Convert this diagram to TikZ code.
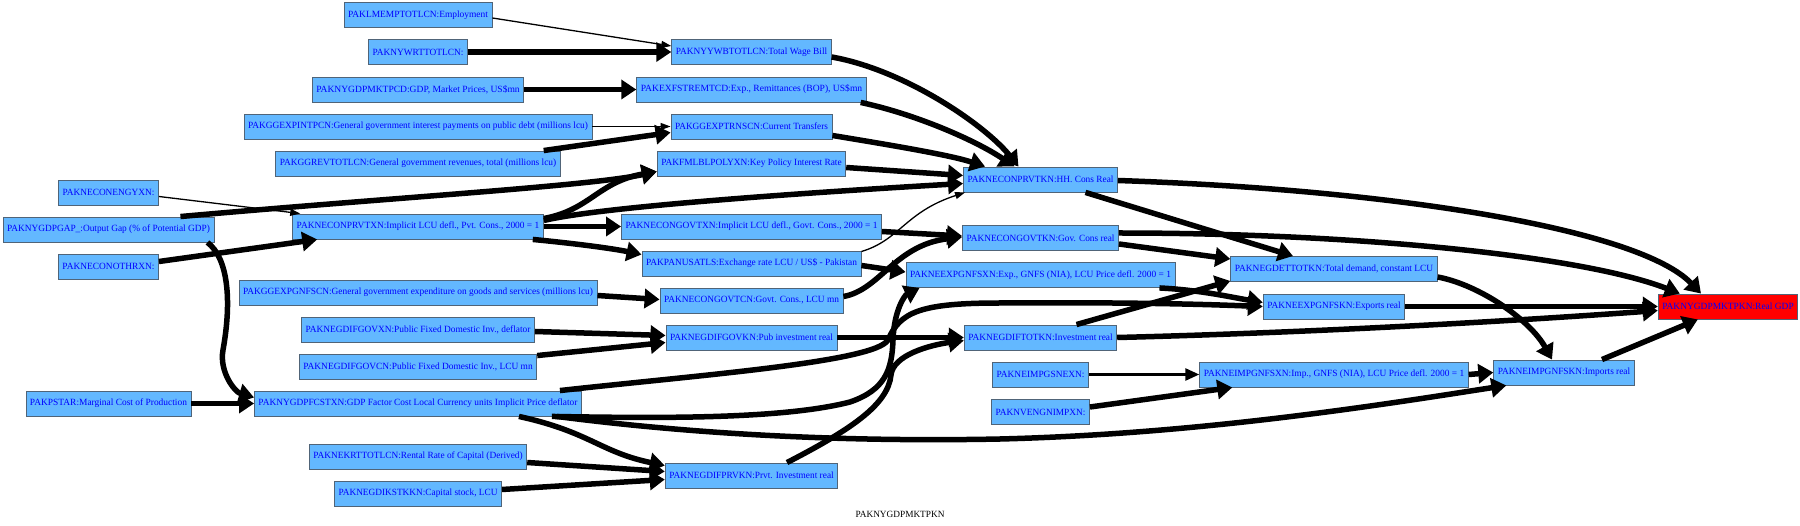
\documentclass[tikz,border=0pt]{standalone}
\usepackage{fontspec}
\setmainfont{Liberation Serif}
\usepackage{graphicx}
\usetikzlibrary{arrows.meta,calc}
\definecolor{boxfill}{RGB}{99,184,255}
\definecolor{boxline}{RGB}{80,100,120}
\newsavebox\fitbox
\newlength\fitlen
\newcommand\fitw[2]{\sbox\fitbox{#2}\setlength\fitlen{\wd\fitbox}\pgfmathsetmacro\fitsx{(#1)/\fitlen}\scalebox{\fitsx}[1]{\usebox\fitbox}}
\newcommand\nodefont{\fontsize{9.5}{10}\selectfont}
\newcommand\bx[6][box]{\node[#1,minimum width=#5pt] (#2) at (#3,#4) {\fitw{#5-8}{#6}};}
\tikzset{
  box/.style={draw=boxline, fill=boxfill, line width=0.9pt, minimum height=25pt, inner sep=0pt, text=blue, font=\nodefont},
  gdpbox/.style={box, fill=red},
  thk/.style={line width=5.5pt, -{Triangle[length=15pt,width=19pt]}},
  thn/.style={line width=1.3pt, -{Triangle[length=10pt,width=7pt]}},
  med/.style={line width=2.6pt, -{Triangle[length=14pt,width=12pt]}},
}
\begin{document}
\begin{tikzpicture}[x=1pt,y=-1pt]
\fill[white] (0,0) rectangle (1800,526);
\useasboundingbox (0,0) rectangle (1800,526);
% column 0
\bx{econengy}{108.5}{192.5}{100}{PAKNECONENGYXN:}
\bx{outgap}{108.5}{229.5}{211}{PAKNYGDPGAP\_:Output Gap (\% of Potential GDP)}
\bx{econothr}{108.5}{266.5}{100}{PAKNECONOTHRXN:}
\bx{pstar}{108.5}{403.5}{165}{PAKPSTAR:Marginal Cost of Production}
% column 1
\bx{lmemp}{418}{15}{148}{PAKLMEMPTOTLCN:Employment}
\bx{nywrt}{418}{52}{99}{PAKNYWRTTOTLCN:}
\bx{gdpusd}{418}{89.5}{211.5}{PAKNYGDPMKTPCD:GDP, Market Prices, US\$mn}
\bx{ggint}{418}{126.5}{348}{PAKGGEXPINTPCN:General government interest payments on public debt (millions lcu)}
\bx{ggrev}{418}{163.5}{284.5}{PAKGGREVTOTLCN:General government revenues, total (millions lcu)}
\bx{prvtxn}{418}{226.5}{250.7}{PAKNECONPRVTXN:Implicit LCU defl., Pvt. Cons., 2000 = 1}
\bx{gggnfs}{418}{292.5}{358}{PAKGGEXPGNFSCN:General government expenditure on goods and services (millions lcu)}
\bx{gdifgovx}{418}{329.5}{233}{PAKNEGDIFGOVXN:Public Fixed Domestic Inv., deflator}
\bx{gdifgovc}{418}{366.5}{237.5}{PAKNEGDIFGOVCN:Public Fixed Domestic Inv., LCU mn}
\bx{fcstxn}{418}{403.5}{327}{PAKNYGDPFCSTXN:GDP Factor Cost Local Currency units Implicit Price deflator}
\bx{krt}{418}{456.5}{217.5}{PAKNEKRTTOTLCN:Rental Rate of Capital (Derived)}
\bx{kstk}{418}{493.5}{167}{PAKNEGDIKSTKKN:Capital stock, LCU}
% column 2
\bx{wagebill}{751.5}{52}{159.5}{PAKNYYWBTOTLCN:Total Wage Bill}
\bx{remit}{751.5}{89.5}{229.5}{PAKEXFSTREMTCD:Exp., Remittances (BOP), US\$mn}
\bx{transf}{751.5}{126.5}{161}{PAKGGEXPTRNSCN:Current Transfers}
\bx{policy}{751.5}{163.5}{188.5}{PAKFMLBLPOLYXN:Key Policy Interest Rate}
\bx{govtxn}{751.5}{226.5}{260}{PAKNECONGOVTXN:Implicit LCU defl., Govt. Cons., 2000 = 1}
\bx{exrate}{751.5}{263.5}{219}{PAKPANUSATLS:Exchange rate LCU / US\$ - Pakistan}
\bx{govtcn}{751.5}{300.5}{183}{PAKNECONGOVTCN:Govt. Cons., LCU mn}
\bx{gdifgovk}{751.5}{337.5}{171}{PAKNEGDIFGOVKN:Pub investment real}
\bx{gdifprvk}{751.5}{475.5}{172.5}{PAKNEGDIFPRVKN:Prvt. Investment real}
% column 3
\bx{hhcons}{1040.5}{179.5}{154}{PAKNECONPRVTKN:HH. Cons Real}
\bx{govcons}{1040.5}{238}{156}{PAKNECONGOVTKN:Gov. Cons real}
\bx{expdefl}{1040.5}{275}{269}{PAKNEEXPGNFSXN:Exp., GNFS (NIA), LCU Price defl. 2000 = 1}
\bx{invest}{1040.5}{337.5}{152.5}{PAKNEGDIFTOTKN:Investment real}
\bx{impsnex}{1040.5}{374.5}{96}{PAKNEIMPGSNEXN:}
\bx{vengn}{1040.5}{412}{98}{PAKNVENGNIMPXN:}
% column 4
\bx{totdem}{1334}{269}{206.5}{PAKNEGDETTOTKN:Total demand, constant LCU}
\bx{exports}{1334}{306.5}{141.5}{PAKNEEXPGNFSKN:Exports real}
\bx{impdefl}{1334}{374.5}{268.5}{PAKNEIMPGNFSXN:Imp., GNFS (NIA), LCU Price defl. 2000 = 1}
% column 5
\bx{imports}{1564}{372.5}{140.5}{PAKNEIMPGNFSKN:Imports real}
\bx[gdpbox]{gdp}{1728}{306.5}{139.5}{PAKNYGDPMKTPKN:Real GDP}
% title
\node[font=\nodefont, inner sep=0pt] (title) at (900,514) {\fitw{89}{PAKNYGDPMKTPKN}};

% edges
\draw[thn] ($(lmemp.east)+(0,3)$) -- ($(wagebill.west)+(0,-6)$);
\draw[thk] (nywrt.east) -- (wagebill.west);
\draw[thk] (gdpusd.east) -- (remit.west);
\draw[thn] (ggint.east) -- (transf.west);
\draw[thk] ($(ggrev.north east)+(-17,0)$) -- ($(transf.west)+(0,6)$);
\draw[thk] ($(wagebill.east)+(0,5)$) .. controls (905,70) and (985,125) .. ($(hhcons.north)+(-22,0)$);
\draw[thk] ($(remit.south east)+(-6,0)$) .. controls (915,114) and (975,140) .. ($(hhcons.north)+(-26,0)$);
\draw[thk] ($(transf.east)+(0,9)$) .. controls (890,145) and (950,155) .. ($(hhcons.north west)+(22,0)$);
\draw[thk] ($(policy.east)+(0,4)$) -- ($(hhcons.west)+(0,-4)$);
\draw[thk] ($(outgap.north east)+(-34,0)$) .. controls (400,197) and (590,186) .. ($(policy.west)+(0,8)$);
\draw[thk] ($(prvtxn.east)+(0,-8)$) .. controls (590,210) and (598,182) .. ($(policy.west)+(0,8)$);
\draw[thk] ($(prvtxn.east)+(0,-6)$) .. controls (600,207) and (800,193) .. ($(hhcons.west)+(0,4)$);
\draw[thn] ($(econengy.east)+(0,4)$) -- ($(prvtxn.north west)+(8,0)$);
\draw[thk] ($(econothr.east)+(0,-5)$) -- ($(prvtxn.south west)+(25,0)$);
\draw[thk] (prvtxn.east) -- (govtxn.west);
\draw[thk] ($(prvtxn.south east)+(-11,0)$) .. controls (570,243) and (610,248) .. ($(exrate.west)+(0,-9)$);
\draw[thn] ($(exrate.east)+(0,-12)$) .. controls (900,240) and (905,212) .. ($(hhcons.south west)+(2,0)$);
\draw[thk] ($(govtxn.east)+(0,5)$) -- ($(govcons.west)+(0,-2)$);
\draw[thk] ($(govtcn.east)+(0,-4)$) .. controls (880,290) and (895,245) .. ($(govcons.west)+(0,-1)$);
\draw[thk] ($(exrate.east)+(0,2)$) -- ($(expdefl.west)+(0,-3)$);
\draw[thk] ($(gggnfs.east)+(0,3)$) -- ($(govtcn.west)+(0,-1)$);
\draw[thk] ($(gdifgovx.east)+(0,2)$) -- ($(gdifgovk.west)+(0,-2)$);
\draw[thk] ($(gdifgovc.north east)+(0,2)$) -- ($(gdifgovk.west)+(0,5)$);
\draw[thk] (gdifgovk.east) -- (invest.west);
\draw[thk] ($(gdifprvk.north)+(35.5,0)$) .. controls (850,430) and (888,405) .. (891,375) .. controls (893,355) and (930,345) .. ($(invest.west)+(0,3)$);
\draw[thk] ($(fcstxn.north east)+(-22,0)$) .. controls (700,375) and (875,362) .. (888,340) .. controls (900,312) and (920,303) .. (1000,303) .. controls (1150,302) and (1220,305) .. (exports.west);
\draw[thk] ($(fcstxn.south east)+(-30,0)$) .. controls (650,418) and (780,420) .. (850,402) .. controls (885,390) and (892,370) .. (893,340) .. controls (894,310) and (905,295) .. ($(expdefl.south west)+(14,0)$);
\draw[thk] ($(fcstxn.south east)+(-25,0)$) .. controls (700,435) and (850,442) .. (1000,439) .. controls (1200,434) and (1380,405) .. ($(imports.south west)+(13,0)$);
\draw[thk] ($(fcstxn.south east)+(-63,0)$) .. controls (590,432) and (600,452) .. ($(gdifprvk.north west)+(0,3)$);
\draw[thk] ($(krt.east)+(0,6)$) -- ($(gdifprvk.west)+(0,-4)$);
\draw[thk] ($(kstk.east)+(0,-4)$) -- ($(gdifprvk.west)+(0,4)$);
\draw[thk] ($(outgap.south east)+(-7,0)$) .. controls (228,258) and (232,300) .. (223,350) .. controls (219,372) and (235,392) .. ($(fcstxn.west)+(0,-6)$);
\draw[thk] (pstar.east) -- (fcstxn.west);
\draw[thk] ($(hhcons.east)+(0,1)$) .. controls (1400,190) and (1640,230) .. ($(gdp.north)+(-27,0)$);
\draw[thk] ($(hhcons.south)+(45,0)$) -- ($(totdem.north)+(-41,0)$);
\draw[thk] ($(govcons.east)+(0,-5)$) .. controls (1350,233) and (1580,255) .. ($(gdp.north west)+(22,0)$);
\draw[thk] ($(govcons.east)+(0,6)$) -- ($(totdem.west)+(0,-10)$);
\draw[thk] ($(invest.north)+(36,0)$) -- ($(totdem.south west)+(0,-1)$);
\draw[thk] (invest.east) .. controls (1300,333) and (1500,322) .. ($(gdp.west)+(0,4)$);
\draw[thk] ($(expdefl.south east)+(-16,0)$) .. controls (1200,290) and (1230,297) .. ($(exports.west)+(0,-4)$);
\draw[thk] (exports.east) -- (gdp.west);
\draw[thk] ($(totdem.east)+(0,8)$) .. controls (1480,285) and (1530,320) .. ($(imports.north)+(-12,0)$);
\draw[thk] ($(imports.north)+(38,0)$) -- ($(gdp.south west)+(40,0)$);
\draw[med] (impsnex.east) -- (impdefl.west);
\draw[thk] ($(vengn.east)+(0,-5)$) -- ($(impdefl.south west)+(33,0)$);
\draw[thk] (impdefl.east) -- (imports.west);
\end{tikzpicture}
\end{document}
